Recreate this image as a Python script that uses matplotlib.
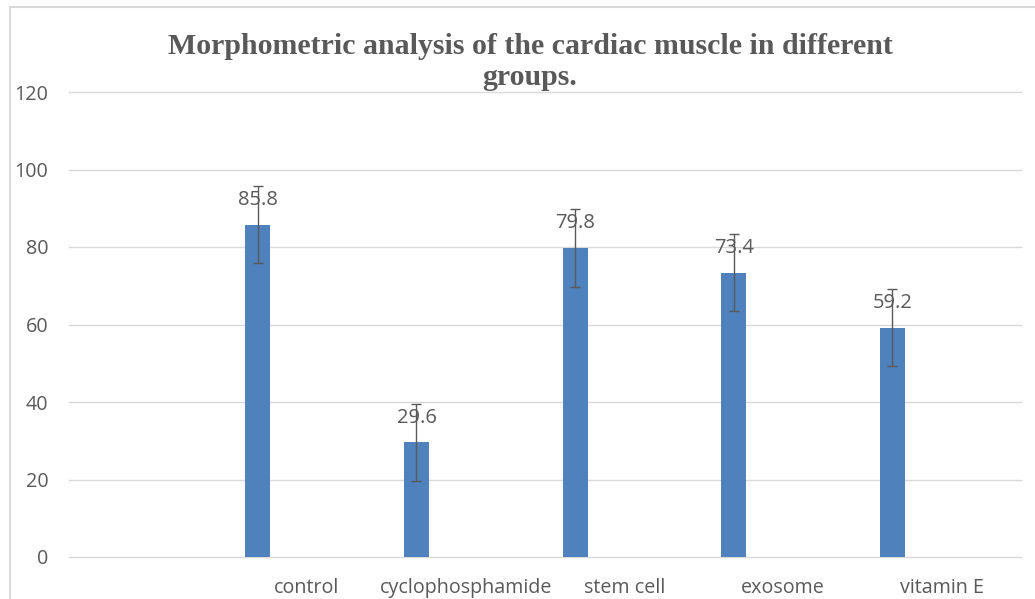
import numpy as np
import matplotlib
matplotlib.use("Agg")
import matplotlib.pyplot as plt
from matplotlib.patches import Rectangle

# values
groups = ["control", "cyclophosphamide", "stem cell", "exosome", "vitamin E"]
means = [85.8, 29.6, 79.8, 73.4, 59.2]
errs = [10, 10, 10, 10, 10]
yticks = [0, 20, 40, 60, 80, 100, 120]

GREY = "#595959"
BAR = "#4F81BD"
GRID = "#D9D9D9"

fig = plt.figure(figsize=(10.35, 5.99), dpi=100)
ax = fig.add_axes([69 / 1035, 1 - 557 / 599, 952 / 1035, 465 / 599])

# excel layout: first category slot is empty, bars sit left of slot centre
pos = np.arange(1, len(groups) + 1)
off = -0.31
ax.bar(pos + off, means, width=0.158, color=BAR, zorder=2)
ax.errorbar(pos + off, means, yerr=errs, fmt="none", ecolor=GREY,
            elinewidth=1.0, capsize=3.5, capthick=1.0, zorder=3)
for x, v in zip(pos + off, means):
    ax.annotate(f"{v}", (x, v), xytext=(0, 17.5), textcoords="offset points",
                ha="center", va="center", fontsize=14.5, color=GREY,
                family="Open Sans", zorder=4)

ax.set_xlim(-0.5, 5.5)
ax.set_ylim(0, 120)
ax.set_yticks(yticks)
ax.set_xticks(pos)
ax.set_xticklabels(groups)
ax.yaxis.grid(True, color=GRID, lw=1.0, zorder=0)
for gl in ax.get_ygridlines():
    gl.set_clip_on(False)
ax.tick_params(length=0, colors=GREY, labelsize=14.2)
ax.tick_params(axis="y", pad=15)
ax.tick_params(axis="x", pad=15)
for lab in ax.get_xticklabels() + ax.get_yticklabels():
    lab.set_family("Open Sans")
for s in ax.spines.values():
    s.set_visible(False)

# chart area border (cropped at right/bottom in the reference)
fig.patches.append(Rectangle((10 / 1035, -0.1), 1.2, (599 - 7) / 599 + 0.1,
                             transform=fig.transFigure, fill=False,
                             edgecolor=GRID, lw=1.5))

fig.text(530 / 1035, 1 - 33 / 599,
         "Morphometric analysis of the cardiac muscle in different\ngroups.",
         ha="center", va="top", fontsize=21.5, fontweight="bold",
         family="Liberation Serif", color=GREY, linespacing=1.18)

fig.savefig("out.png", dpi=100)
